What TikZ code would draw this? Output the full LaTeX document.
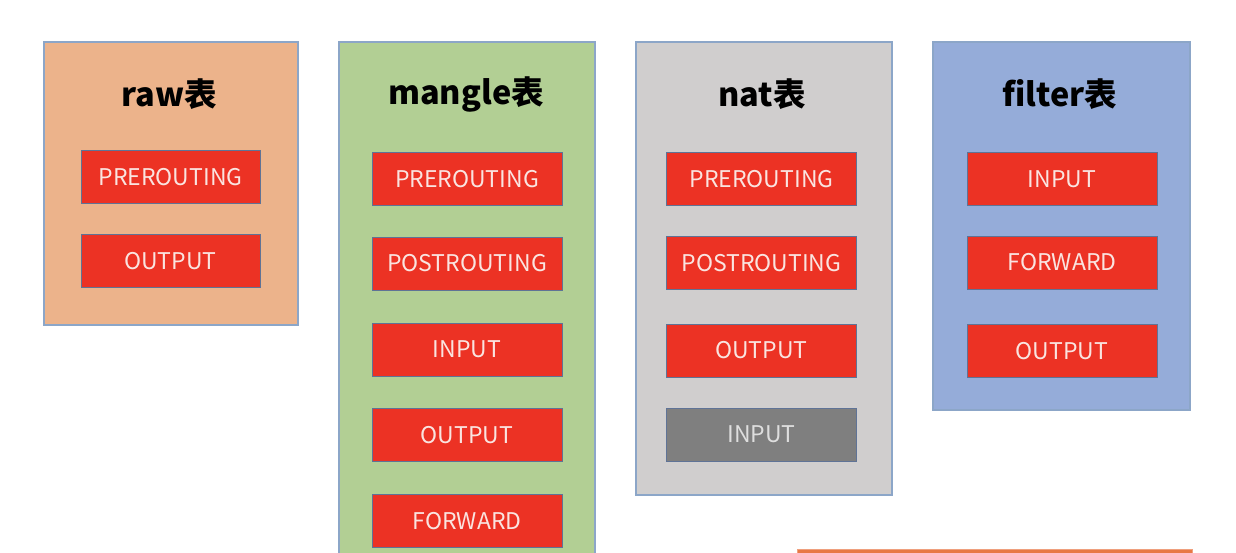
\documentclass[tikz,border=0pt]{standalone}
\usepackage{fontspec}
\setmainfont{Noto Sans CJK SC}
\definecolor{rawfill}{RGB}{236,179,139}
\definecolor{manglefill}{RGB}{178,207,148}
\definecolor{natfill}{RGB}{208,206,206}
\definecolor{filterfill}{RGB}{149,172,217}
\definecolor{chainred}{RGB}{236,50,36}
\definecolor{chaingray}{RGB}{127,127,127}
\definecolor{outerborder}{RGB}{140,166,200}
\definecolor{innerborder}{RGB}{95,115,150}
\definecolor{chaintext}{RGB}{250,228,224}
\definecolor{graytext}{RGB}{222,222,222}
\definecolor{orangebox}{RGB}{232,120,70}
\tikzset{
  tablebox/.style={draw=outerborder, line width=1.7pt, anchor=north west, inner sep=0pt},
  titletext/.style={font=\bfseries\fontsize{32.5}{34}\selectfont, text=black},
  chain/.style={draw=innerborder, line width=1pt, fill=chainred, text=chaintext,
    minimum width=190pt, minimum height=53pt, inner sep=0pt,
    font=\fontsize{23}{25}\selectfont},
  chaingrey/.style={chain, fill=chaingray, text=graytext},
}
\begin{document}
\begin{tikzpicture}[x=1pt,y=-1pt]
\useasboundingbox (0,0) rectangle (1236,552);
\clip (0,0) rectangle (1236,552);
\fill[white] (0,0) rectangle (1236,552);
% table boxes
\node[tablebox, fill=rawfill, minimum width=254pt, minimum height=283pt] (raw) at (43,41) {};
\node[tablebox, fill=manglefill, minimum width=256pt, minimum height=600pt] (mangle) at (338,41) {};
\node[tablebox, fill=natfill, minimum width=256pt, minimum height=453pt] (nat) at (635,41) {};
\node[tablebox, fill=filterfill, minimum width=257pt, minimum height=368pt] (filter) at (932,41) {};
% titles
\node[titletext] (rawt) at (169,94) {raw表};
\node[titletext] (manglet) at (466,94) {mangle表};
\node[titletext] (natt) at (762,94) {nat表};
\node[titletext] (filtert) at (1060,94) {filter表};
% raw chains
\node[chain, minimum width=179pt] (rawpre) at (170.5,177) {PREROUTING};
\node[chain, minimum width=179pt] (rawout) at (170.5,261) {OUTPUT};
% mangle chains
\node[chain] (mpre) at (467,179) {PREROUTING};
\node[chain] (mpost) at (467,263.5) {POSTROUTING};
\node[chain] (min) at (467,349.5) {INPUT};
\node[chain] (mout) at (467,435) {OUTPUT};
\node[chain] (mfwd) at (467,521) {FORWARD};
% nat chains
\node[chain] (npre) at (761.5,179) {PREROUTING};
\node[chain] (npost) at (761.5,263) {POSTROUTING};
\node[chain] (nout) at (761.5,350.5) {OUTPUT};
\node[chaingrey] (nin) at (761.5,434.5) {INPUT};
% filter chains
\node[chain] (fin) at (1062,179) {INPUT};
\node[chain] (ffwd) at (1062,262.5) {FORWARD};
\node[chain] (fout) at (1062,351) {OUTPUT};
% partially visible box at bottom right
\node[draw=orangebox!70!white, line width=1pt, fill=orangebox, anchor=north west,
  minimum width=395pt, minimum height=40pt, inner sep=0pt] (bottombox) at (797,549) {};
\end{tikzpicture}
\end{document}
